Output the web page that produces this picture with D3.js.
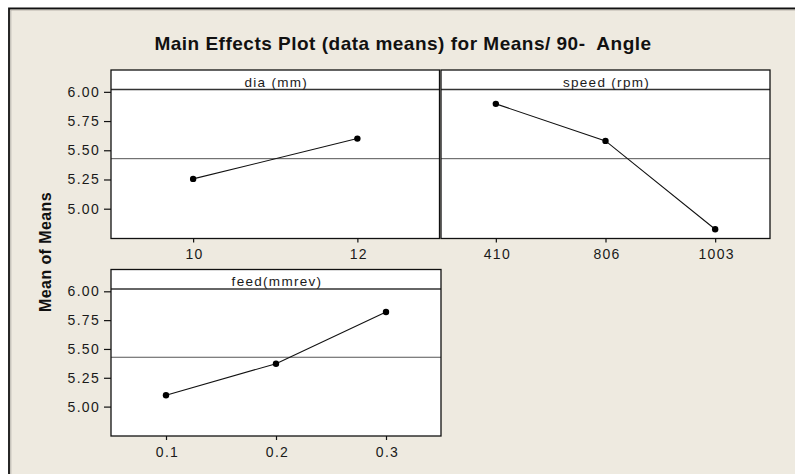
<!DOCTYPE html>
<html>
<head>
<meta charset="utf-8">
<script src="https://cdn.jsdelivr.net/npm/d3@7"></script>
<style>
  body { margin: 0; background: #fff; }
  svg text { font-family: "Liberation Sans", Arial, sans-serif; white-space: pre; }
  .axis path { display: none; }
  .axis line { stroke: #111; stroke-width: 1.2; }
</style>
</head>
<body>
<svg id="chart" width="795" height="474"></svg>
<script>
// data
const diaLevels = ["10", "12"];
const diaMeans = [5.255, 5.60];
const speedLevels = ["410", "806", "1003"];
const speedMeans = [5.897, 5.58, 4.824];
const feedLevels = ["0.1", "0.2", "0.3"];
const feedMeans = [5.099, 5.372, 5.82];
const grandMean = 5.428;
const yTicks = [5.00, 5.25, 5.50, 5.75, 6.00];
const yDomain = [4.745, 6.02];

const svg = d3.select("#chart");

// beige background with dark frame on left and top
svg.append("rect").attr("x", 9).attr("y", 8).attr("width", 800).attr("height", 480).attr("fill", "#eeeae0");
svg.append("path").attr("d", "M9,474 V8.5 H795").attr("fill", "none").attr("stroke", "#111").attr("stroke-width", 1.8);
svg.append("path").attr("d", "M10.8,474 V10 H795").attr("fill", "none").attr("stroke", "#a9a69f").attr("stroke-width", 0.8);

svg.append("text")
  .attr("x", 403).attr("y", 49.5)
  .attr("text-anchor", "middle")
  .attr("font-size", "19px").attr("font-weight", "bold").attr("fill", "#111")
  .attr("letter-spacing", "0.5px")
  .text("Main Effects Plot (data means) for Means/ 90-  Angle");

svg.append("text")
  .attr("transform", "translate(51, 252) rotate(-90)")
  .attr("text-anchor", "middle")
  .attr("font-size", "16px").attr("font-weight", "bold").attr("fill", "#111")
  .attr("letter-spacing", "0.4px")
  .text("Mean of Means");

const panels = [
  { name: "dia (mm)", levels: diaLevels, means: diaMeans, x0: 111, x1: 439.5, top: 70, bottom: 238.5, yAxis: true },
  { name: "speed (rpm)", levels: speedLevels, means: speedMeans, x0: 441, x1: 770, top: 70, bottom: 238.5, yAxis: false },
  { name: "feed(mmrev)", levels: feedLevels, means: feedMeans, x0: 111, x1: 441, top: 269.5, bottom: 436, yAxis: true }
];
const stripH = 19.5;

panels.forEach((p) => {
  const g = svg.append("g");
  const plotTop = p.top + stripH;

  const xScale = d3.scalePoint().domain(p.levels).range([p.x0, p.x1]).padding(0.5);
  const yScale = d3.scaleLinear().domain(yDomain).range([p.bottom, plotTop]);

  g.append("rect")
    .attr("x", p.x0).attr("y", p.top)
    .attr("width", p.x1 - p.x0).attr("height", p.bottom - p.top)
    .attr("fill", "#fff");

  // grand mean reference line
  g.append("line")
    .attr("x1", p.x0).attr("x2", p.x1)
    .attr("y1", yScale(grandMean)).attr("y2", yScale(grandMean))
    .attr("stroke", "#555").attr("stroke-width", 1);

  const lineGen = d3.line()
    .x((d, i) => xScale(p.levels[i]))
    .y((d) => yScale(d));
  g.append("path")
    .attr("d", lineGen(p.means))
    .attr("fill", "none").attr("stroke", "#111").attr("stroke-width", 1.1);

  g.selectAll("circle").data(p.means).join("circle")
    .attr("cx", (d, i) => xScale(p.levels[i]))
    .attr("cy", (d) => yScale(d))
    .attr("r", 3.2).attr("fill", "#000");

  // strip
  g.append("line")
    .attr("x1", p.x0).attr("x2", p.x1)
    .attr("y1", plotTop).attr("y2", plotTop)
    .attr("stroke", "#333").attr("stroke-width", 1.3);
  g.append("text")
    .attr("x", (p.x0 + p.x1) / 2 + 1).attr("y", p.top + 16.5)
    .attr("text-anchor", "middle")
    .attr("font-size", "13.5px").attr("letter-spacing", "1.3px").attr("fill", "#1a1a1a")
    .text(p.name);

  g.append("rect")
    .attr("x", p.x0).attr("y", p.top)
    .attr("width", p.x1 - p.x0).attr("height", p.bottom - p.top)
    .attr("fill", "none").attr("stroke", "#111").attr("stroke-width", 1.3);

  const xAxis = g.append("g").attr("class", "axis")
    .attr("transform", `translate(0, ${p.bottom})`)
    .call(d3.axisBottom(xScale).tickSize(4).tickPadding(7));
  xAxis.selectAll("text")
    .attr("font-size", "14px").attr("letter-spacing", "1.3px").attr("fill", "#1a1a1a")
    .attr("dx", "1px");

  if (p.yAxis) {
    const yAxis = g.append("g").attr("class", "axis")
      .attr("transform", `translate(${p.x0}, 0)`)
      .call(d3.axisLeft(yScale).tickValues(yTicks).tickFormat(d3.format(".2f")).tickSize(7).tickPadding(4));
    yAxis.selectAll("text")
      .attr("font-size", "14px").attr("letter-spacing", "1.3px").attr("fill", "#1a1a1a");
  }
});
</script>
</body>
</html>
